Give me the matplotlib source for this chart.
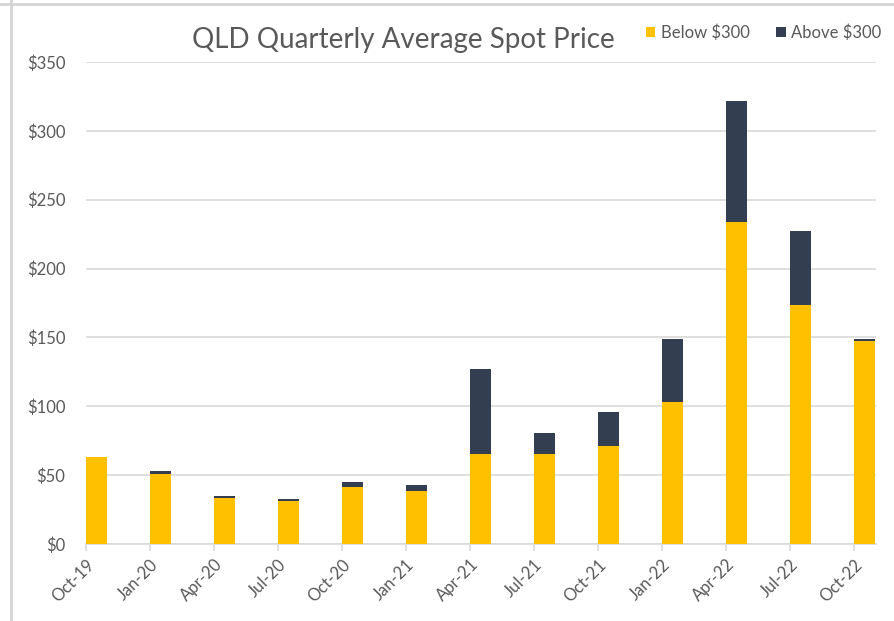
import matplotlib
matplotlib.use("Agg")
import matplotlib.pyplot as plt
from matplotlib.lines import Line2D
import numpy as np

quarters = ["Oct-19", "Jan-20", "Apr-20", "Jul-20", "Oct-20", "Jan-21", "Apr-21",
            "Jul-21", "Oct-21", "Jan-22", "Apr-22", "Jul-22", "Oct-22"]
below_300 = [63, 51, 33.5, 31.5, 41.5, 38.5, 65.5, 65.5, 71, 103, 234, 173.5, 147.5]
above_300 = [0, 2, 1.2, 1.0, 3.5, 4.5, 61.5, 15, 25, 45.5, 88, 53.5, 1.2]
y_ticks = [0, 50, 100, 150, 200, 250, 300, 350]
y_labels = ["$0", "$50", "$100", "$150", "$200", "$250", "$300", "$350"]

plt.rcParams['font.family'] = ['Lato', 'DejaVu Sans']
GRAY = "#595959"
GRID = "#d9d9d9"
YELLOW = "#FFC000"
DARK = "#333F50"

fig = plt.figure(figsize=(8.94, 6.21), dpi=100)
ax = fig.add_axes([86/894, 1-544/621, (876-86)/894, (544-62)/621])

x = np.arange(len(quarters))
w = 0.33
ax.bar(x, below_300, width=w, align='edge', color=YELLOW, label="Below $300", zorder=3)
ax.bar(x, above_300, width=w, bottom=below_300, align='edge', color=DARK,
       label="Above $300", zorder=3)

ax.set_xlim(0, len(quarters) - 1 + 0.34)
ax.set_ylim(0, 350)
ax.set_yticks(y_ticks)
ax.set_yticklabels(y_labels)
ax.set_xticks(x)
ax.set_xticklabels(quarters, rotation=45, ha='right', rotation_mode='anchor')

ax.grid(axis='y', color=GRID, linewidth=1.2, zorder=0)
for s in ['top', 'right', 'left']:
    ax.spines[s].set_visible(False)
ax.spines['bottom'].set_color(GRID)
ax.spines['bottom'].set_linewidth(1.2)
ax.tick_params(axis='y', length=0, pad=15, labelsize=12, labelcolor=GRAY)
ax.tick_params(axis='x', length=5, color=GRID, width=1.2, pad=4, labelsize=12, labelcolor=GRAY)

fig.text(403/894, 1-40/621, "QLD Quarterly Average Spot Price", ha='center', va='center',
         fontsize=20, color=GRAY)

fig.legend(loc='center right', bbox_to_anchor=(890/894, 1-33/621), ncol=2, frameon=False,
           fontsize=12, labelcolor=GRAY, handlelength=0.55, handleheight=0.55,
           handletextpad=0.35, columnspacing=1.6, borderpad=0)

# outer frame lines
fig.add_artist(Line2D([0, 1], [1-4/621, 1-4/621], transform=fig.transFigure,
                      color="#d4d4d4", linewidth=2))
fig.add_artist(Line2D([11/894, 11/894], [0, 1], transform=fig.transFigure,
                      color="#d4d4d4", linewidth=2))

fig.savefig("out.png", dpi=100)
